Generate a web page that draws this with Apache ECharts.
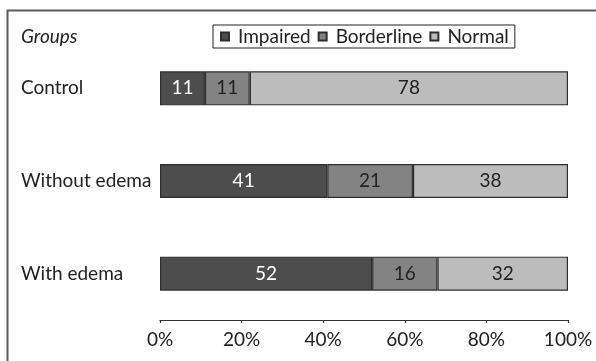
<!DOCTYPE html>
<html>
<head>
<meta charset="utf-8">
<script src="https://cdn.jsdelivr.net/npm/echarts@6/dist/echarts.min.js"></script>
<style>
  html, body { margin: 0; padding: 0; background: #ffffff; }
  #chart { width: 596px; height: 361px; }
</style>
</head>
<body>
<div id="chart"></div>
<script>
// Visual field outcome by group (percent of eyes)
const groups = ['Control', 'Without edema', 'With edema'];
const impaired = [11, 41, 52];
const borderline = [11, 21, 16];
const normal = [78, 38, 32];
const xTicks = [0, 20, 40, 60, 80, 100];

const FONT = 'Lato';
const FS = 19;
const chart = echarts.init(document.getElementById('chart'), null, { renderer: 'canvas' });

function barSeries(name, data, fill, labelColor) {
  return {
    name: name,
    type: 'bar',
    stack: 'total',
    data: data,
    barWidth: 34,
    itemStyle: { color: fill, borderColor: '#2e2e2e', borderWidth: 1.2 },
    label: {
      show: true,
      position: 'inside',
      color: labelColor,
      fontFamily: FONT,
      fontSize: FS
    },
    emphasis: { disabled: true }
  };
}

chart.setOption({
  animation: false,
  textStyle: { fontFamily: FONT },
  grid: { left: 160, right: 28, top: 42, bottom: 41, containLabel: false },
  legend: {
    left: 213,
    top: 25,
    itemWidth: 8,
    itemHeight: 8,
    itemGap: 7,
    padding: [2, 6, 2, 7],
    borderColor: '#222',
    borderWidth: 1,
    icon: 'rect',
    textStyle: { fontFamily: FONT, fontSize: FS, color: '#222', padding: [0, 0, 0, 4] },
    data: ['Impaired', 'Borderline', 'Normal'],
    selectedMode: false
  },
  xAxis: {
    type: 'value',
    min: xTicks[0],
    max: xTicks[xTicks.length - 1],
    interval: 20,
    axisLine: { show: true, lineStyle: { color: '#333', width: 1.2 } },
    axisTick: { show: true, length: 3, lineStyle: { color: '#333', width: 1.2 } },
    splitLine: { show: false },
    axisLabel: {
      formatter: '{value}%',
      color: '#222',
      fontFamily: FONT,
      fontSize: FS,
      margin: 10
    }
  },
  yAxis: {
    type: 'category',
    data: groups,
    inverse: true,
    axisLine: { show: false },
    axisTick: { show: false },
    axisLabel: {
      align: 'left',
      margin: 139,
      color: '#222',
      fontFamily: FONT,
      fontSize: FS
    }
  },
  series: [
    barSeries('Impaired', impaired, '#4d4d4d', '#ffffff'),
    barSeries('Borderline', borderline, '#838383', '#222222'),
    barSeries('Normal', normal, '#bcbcbc', '#222222')
  ],
  graphic: [
    {
      type: 'polyline',
      shape: { points: [[7.5, 361], [7.5, 10.5], [596, 10.5]] },
      style: { fill: null, stroke: '#5a5a5a', lineWidth: 2 },
      silent: true
    },
    {
      type: 'text',
      left: 21,
      top: 27,
      style: {
        text: 'Groups',
        fill: '#222',
        font: 'italic 19px "Lato"'
      }
    }
  ]
});
</script>
</body>
</html>
